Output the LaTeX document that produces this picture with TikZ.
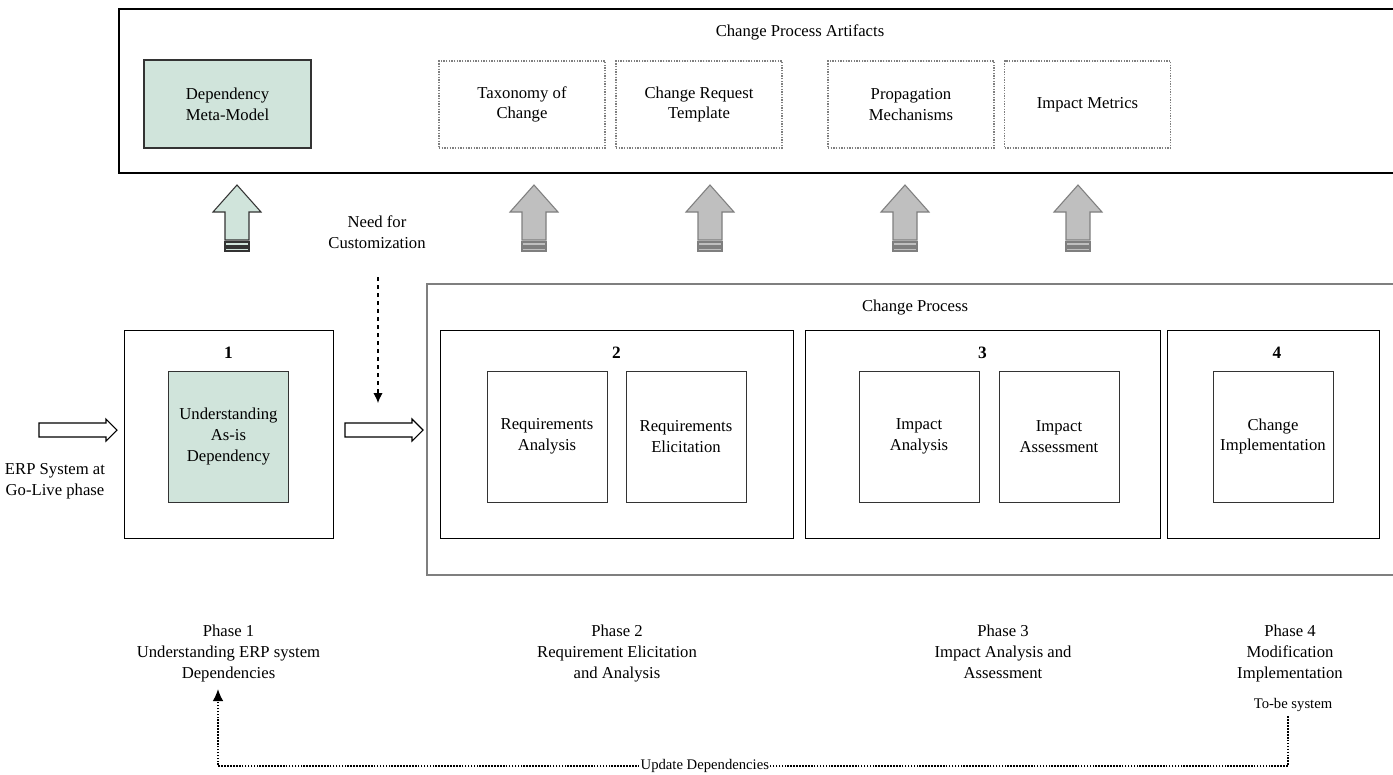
\documentclass[tikz,border=0pt]{standalone}
\usepackage{fontspec}
\setmainfont{Liberation Serif}
\usetikzlibrary{positioning, arrows.meta}
\definecolor{mintfill}{HTML}{D0E4DB}
\definecolor{liftgray}{HTML}{BFBFBF}
\definecolor{edgegray}{HTML}{7F7F7F}
\tikzset{
  every node/.style={font=\fontsize{12.5}{15.5}\selectfont, align=center},
  artifact/.style={draw=edgegray, densely dotted, line width=1pt, minimum width=124.5pt, minimum height=65.25pt},
  phasebox/.style={draw, line width=0.7pt, minimum height=156pt},
  stepcard/.style={draw=black!80, line width=0.7pt, minimum width=90pt, minimum height=98.25pt},
  phasenum/.style={font=\fontsize{13}{15}\selectfont\bfseries},
  phaselbl/.style={anchor=north, font=\fontsize{12.5}{15.75}\selectfont},
}
% block arrow pointing up, with two bands under the shaft
\newcommand{\liftarrow}[3]{%
  \draw[fill=#2, draw=#3, line width=0.8pt] (#1,185) -- ++(24,27) -- ++(-12,0) -- ++(0,28)
    -- ++(-24,0) -- ++(0,-28) -- ++(-12,0) -- cycle;
  \draw[fill=#2, draw=#3, line width=0.8pt] (#1-12,242) rectangle (#1+12,246);
  \draw[fill=#2, draw=#3, line width=0.8pt] (#1-12,248) rectangle (#1+12,251);
}
% block arrow pointing right
\newcommand{\pusharrow}[2]{%
  \draw[fill=white, line width=0.8pt] (#1,423) -- (#2-11,423) -- (#2-11,419) -- (#2,430)
    -- (#2-11,441) -- (#2-11,437) -- (#1,437) -- cycle;
}
\begin{document}
\begin{tikzpicture}[x=0.75pt, y=-0.75pt]
  \useasboundingbox (0,0) rectangle (1393,775);
  %artefactos
  \draw[line width=1.2pt] (119,9) rectangle (1400,173);
  \node (arttitle) at (800,32) {Change Process Artifacts};
  \node[draw=black!80, fill=mintfill, line width=0.8pt, minimum width=125.25pt, minimum height=66pt] (metamodel) at (227.5,104) {Dependency\\Meta-Model};
  \node[artifact] (taxonomy) at (522,104.5) {Taxonomy of\\Change};
  \node[artifact] (crtemplate) at (699,104.5) {Change Request\\Template};
  \node[artifact] (propagation) at (911,104.5) {Propagation\\Mechanisms};
  \node[artifact] (metrics) at (1087.5,104.5) {Impact Metrics};
  %flechas hacia arriba
  \liftarrow{237}{mintfill}{black!80}
  \foreach \ax in {534,710,905,1078}
    \liftarrow{\ax}{liftgray}{edgegray}
  %proceso de cambio
  \draw[draw=edgegray, line width=1.2pt] (427,284) rectangle (1400,575);
  \node (proctitle) at (915,308) {Change Process};
  \node[phasebox, minimum width=156.75pt] (ph1) at (228.5,434) {};
  \node[phasebox, minimum width=264.75pt] (ph2) at (616.5,434) {};
  \node[phasebox, minimum width=266.25pt] (ph3) at (982.5,434) {};
  \node[phasebox, minimum width=159pt] (ph4) at (1273,434) {};
  \node[phasenum] (n1) at (228.5,353) {1};
  \node[phasenum] (n2) at (616.5,353) {2};
  \node[phasenum] (n3) at (982.5,353) {3};
  \node[phasenum] (n4) at (1277,353) {4};
  \node[stepcard, fill=mintfill] (asis) at (228.5,436.5) {Understanding\\As-is\\Dependency};
  \node[stepcard] (reqana) at (547,436.5) {Requirements\\Analysis};
  \node[stepcard] (reqeli) at (686,436.5) {Requirements\\Elicitation};
  \node[stepcard] (impana) at (919,436.5) {Impact\\Analysis};
  \node[stepcard] (impass) at (1059,436.5) {Impact\\Assessment};
  \node[stepcard] (chimpl) at (1273,436.5) {Change\\Implementation};
  %entradas
  \pusharrow{39}{117}
  \pusharrow{345}{423}
  \node (golive) at (55,481) {ERP System at\\Go-Live phase};
  \node (need) at (377,232) {Need for\\Customization};
  \coordinate (needend) at (378,403);
  \draw[dashed, line width=0.8pt, -{Latex[length=7.5pt,width=7pt]}] (378,277) -- (needend);
  %fases
  \node[phaselbl] (lbl1) at (228.5,620) {Phase 1\\Understanding ERP system\\Dependencies};
  \node[phaselbl] (lbl2) at (617,620) {Phase 2\\Requirement Elicitation\\and Analysis};
  \node[phaselbl] (lbl3) at (1003,620) {Phase 3\\Impact Analysis and\\Assessment};
  \node[phaselbl] (lbl4) at (1290,620) {Phase 4\\Modification\\Implementation};
  %retroalimentacion
  \node[font=\fontsize{11}{13}\selectfont] (tobe) at (1293,705) {To-be system};
  \coordinate (corner) at (1288,766);
  \coordinate (back) at (218,689);
  \draw[densely dotted, line width=1.2pt, -{Latex[length=9pt,width=8pt]}] (tobe.south -| corner) -- (corner) -- node[pos=0.545, fill=white, inner sep=1pt, font=\fontsize{11}{13}\selectfont] (upd) {Update Dependencies} (corner -| back) -- (back);
\end{tikzpicture}
\end{document}
